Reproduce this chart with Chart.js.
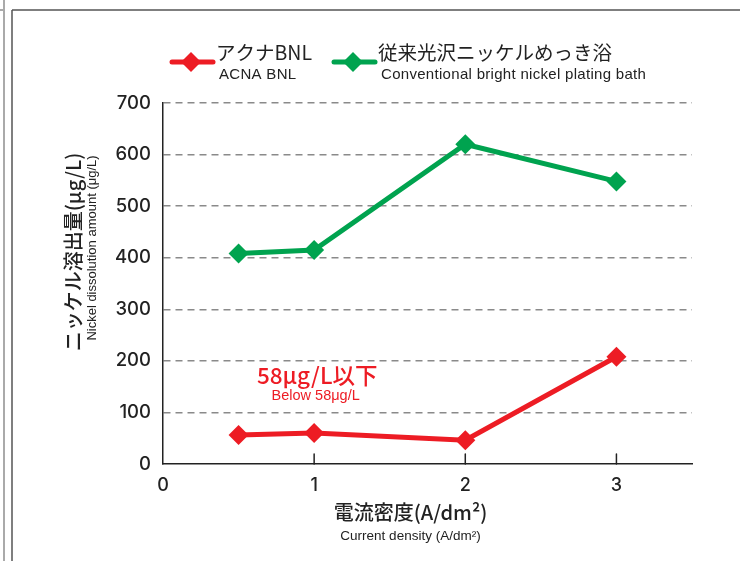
<!DOCTYPE html>
<html>
<head>
<meta charset="utf-8">
<script src="https://cdn.jsdelivr.net/npm/chart.js@4.4.1/dist/chart.umd.min.js"></script>
<style>
  html, body { margin: 0; padding: 0; background: #fff; }
  #wrap { width: 740px; height: 561px; position: relative; }
</style>
</head>
<body>
<div id="wrap"><canvas id="nickelChart"></canvas></div>
<script>
// 電流密度 (A/dm2)
const currentDensity = [0.5, 1, 2, 3];
// ニッケル溶出量 (μg/L)
const acnaValues = [56, 60, 46, 208];
const conventionalValues = [408, 415, 620, 548];
const xTickValues = [0, 1, 2, 3];
const yTickValues = [0, 100, 200, 300, 400, 500, 600, 700];

const seriesNames = [
  ["アクナBNL", "ACNA BNL"],
  ["従来光沢ニッケルめっき浴", "Conventional bright nickel plating bath"],
];
const yTitle = ["ニッケル溶出量(μg/L)", "Nickel dissolution amount (μg/L)"];
const xTitle = ["電流密度(A/dm²)", "Current density (A/dm²)"];
const note = ["58μg/L以下", "Below 58μg/L"];

const RED = "#ed1c24";
const GREEN = "#00a34f";
const JP = '"Noto Sans CJK JP", "Noto Sans", sans-serif';
const EN = '"Liberation Sans", Arial, sans-serif';

window.addEventListener("load", () => {
  const ctx = document.getElementById("nickelChart");

  // 枠線・凡例・軸タイトルを描くプラグイン
  const decorPlugin = {
    id: "decor",
    beforeDraw(chart) {
      const c = chart.ctx;
      c.save();
      c.strokeStyle = "#aaa";
      c.lineWidth = 2;
      c.beginPath(); c.moveTo(4, 0); c.lineTo(4, 561); c.stroke();
      c.beginPath(); c.moveTo(0, 10); c.lineTo(4, 10); c.stroke();
      c.strokeStyle = "#555";
      c.lineWidth = 1.5;
      c.beginPath(); c.moveTo(12, 10); c.lineTo(12, 561); c.stroke();
      c.beginPath(); c.moveTo(12, 10); c.lineTo(740, 10); c.stroke();
      c.restore();
    },
    afterDraw(chart) {
      const c = chart.ctx;
      const xs = chart.scales.x, ys = chart.scales.y;
      c.save();

      // 凡例
      const legend = [
        { color: RED, lx: 170, names: seriesNames[0] },
        { color: GREEN, lx: 332, names: seriesNames[1] },
      ];
      legend.forEach((l) => {
        c.strokeStyle = l.color;
        c.fillStyle = l.color;
        c.lineWidth = 5;
        c.lineCap = "round";
        c.beginPath(); c.moveTo(l.lx + 2, 62); c.lineTo(l.lx + 43, 62); c.stroke();
        const cx = l.lx + 21;
        c.beginPath();
        c.moveTo(cx - 10, 62); c.lineTo(cx, 52); c.lineTo(cx + 10, 62); c.lineTo(cx, 72);
        c.closePath(); c.fill();
        c.fillStyle = "#222";
        c.textAlign = "left";
        c.textBaseline = "middle";
        c.font = "400 19.5px " + JP;
        c.fillText(l.names[0], l.lx + 46, 53);
        c.font = "400 15px " + EN;
        c.letterSpacing = "0.3px";
        c.fillText(l.names[1], l.lx + 49, 75);
        c.letterSpacing = "0px";
      });

      // Y軸タイトル
      c.fillStyle = "#222";
      c.textAlign = "center";
      c.textBaseline = "middle";
      c.save();
      c.translate(73, 252);
      c.rotate(-Math.PI / 2);
      c.font = "500 20px " + JP;
      c.fillText(yTitle[0], 0, 0);
      c.restore();
      c.save();
      c.translate(92, 248);
      c.rotate(-Math.PI / 2);
      c.font = "400 13px " + EN;
      c.fillText(yTitle[1], 0, 0);
      c.restore();

      // X軸タイトル
      const xc = (xs.left + xs.right) / 2 - 18;
      c.font = "500 20px " + JP;
      c.fillText(xTitle[0], xc + 1, 512);
      c.font = "400 13.5px " + EN;
      c.fillText(xTitle[1], xc + 1, 536);

      // X軸の目盛り (内向き)
      c.strokeStyle = "#222";
      c.lineWidth = 1.5;
      xTickValues.slice(1).forEach((v) => {
        const px = xs.getPixelForValue(v);
        c.beginPath(); c.moveTo(px, ys.bottom); c.lineTo(px, ys.bottom - 10); c.stroke();
      });

      // 注記
      c.fillStyle = RED;
      c.font = "500 22.5px " + JP;
      c.fillText(note[0], xs.getPixelForValue(1.02), ys.getPixelForValue(172));
      c.font = "400 14.5px " + EN;
      c.fillText(note[1], xs.getPixelForValue(1.01), ys.getPixelForValue(132));
      c.restore();
    },
  };

  const toPoints = (vals) => vals.map((v, i) => ({ x: currentDensity[i], y: v }));

  new Chart(ctx, {
    type: "line",
    data: {
      datasets: [
        {
          label: seriesNames[0][0],
          data: toPoints(acnaValues),
          borderColor: RED,
          backgroundColor: RED,
          borderWidth: 5,
          pointStyle: "rectRot",
          pointRadius: 10,
          pointBorderWidth: 0,
          tension: 0,
        },
        {
          label: seriesNames[1][0],
          data: toPoints(conventionalValues),
          borderColor: GREEN,
          backgroundColor: GREEN,
          borderWidth: 5,
          pointStyle: "rectRot",
          pointRadius: 10,
          pointBorderWidth: 0,
          tension: 0,
        },
      ],
    },
    options: {
      animation: false,
      responsive: true,
      maintainAspectRatio: false,
      layout: { padding: { left: 0, right: 48, top: 103, bottom: 0 } },
      plugins: { legend: { display: false }, tooltip: { enabled: false } },
      scales: {
        x: {
          type: "linear",
          min: 0,
          max: 3.5,
          afterBuildTicks: (s) => { s.ticks = xTickValues.map((v) => ({ value: v })); },
          afterFit: (s) => { s.height = 97; },
          grid: { display: false, drawTicks: false },
          border: { display: true, color: "#222", width: 1.5 },
          ticks: {
            color: "#222",
            padding: 11,
            font: { family: "Inter", size: 18, weight: "500" },
          },
        },
        y: {
          min: 0,
          max: 700,
          afterBuildTicks: (s) => { s.ticks = yTickValues.map((v) => ({ value: v })); },
          afterFit: (s) => { s.width = 163; },
          grid: {
            drawTicks: false,
            color: (c) => (c.tick && c.tick.value === 0 ? "rgba(0,0,0,0)" : "#8a8a8a"),
            lineWidth: 1.5,
          },
          border: { display: true, color: "#222", width: 1.5, dash: [7, 5] },
          ticks: {
            color: "#222",
            padding: 12,
            font: { family: "Inter", size: 18.5, weight: "500" },
          },
        },
      },
    },
    plugins: [decorPlugin],
  });
});
</script>
</body>
</html>
